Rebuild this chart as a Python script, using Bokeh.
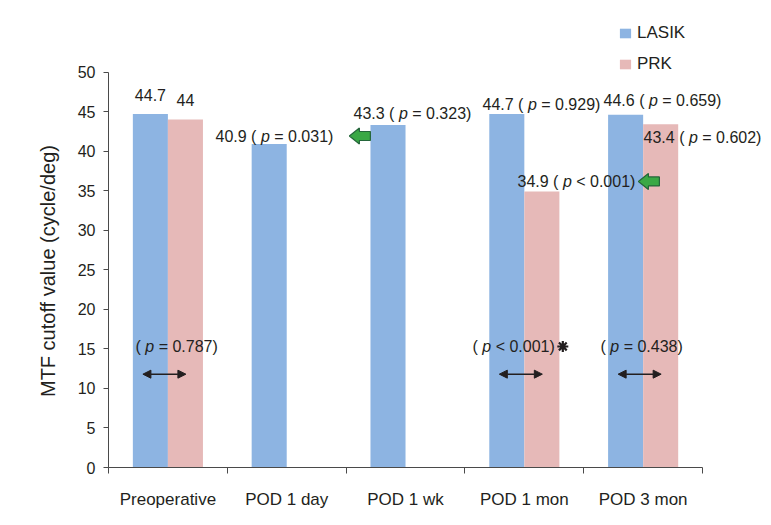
from bokeh.plotting import figure
from bokeh.models import (Range1d, FixedTicker, Legend, LegendItem, Arrow, NormalHead,
                          ColumnDataSource)
from bokeh.core.properties import value
from bokeh.embed import file_html
from bokeh.resources import INLINE

# ---------------- data ----------------
categories = ["Preoperative", "POD 1 day", "POD 1 wk", "POD 1 mon", "POD 3 mon"]
lasik = [44.7, 40.9, 43.3, 44.7, 44.6]
prk = [44.0, None, None, 34.9, 43.4]
lasik_p = [None, "= 0.031", "= 0.323", "= 0.929", "= 0.659"]
prk_p = [None, None, None, "< 0.001", "= 0.602"]
between_p = ["= 0.787", None, None, "< 0.001", "= 0.438"]
between_sig = [False, False, False, True, False]
lasik_changed = [False, True, False, False, False]
prk_changed = [False, False, False, True, False]
y_ticks = list(range(0, 51, 5))
y_label = "MTF cutoff value (cycle/deg)"

# ---------------- layout / style ----------------
FONT = "Liberation Sans"
TXT = "#231f20"
AXC = "#4a4a4a"
C_LASIK = "#8DB4E2"
C_PRK = "#E6B9B8"
GREEN = "#3aa845"
GREEN_D = "#24663a"
BAR_W = 0.295
X0, X1 = -0.5, 5.013
Y0, Y1 = 0, 57.4
FRAME_W, FRAME_H = 655, 454
PX_X = FRAME_W / (X1 - X0)
PX_Y = FRAME_H / (Y1 - Y0)
FS = 16  # annotation font size
LABEL_PAD = 11  # non-breaking spaces: centres the axis title on the 0-50 span

# (align, dx px from category centre, dy px from bar top; negative = up)
lasik_layout = [("center", -17.5, -19), ("left", -71.2, -8), ("left", -52, -12),
                ("left", -41.8, -9), ("left", -39.6, -14)]
prk_layout = [("center", 17.5, -19), None, None, ("left", -6.8, -10), ("left", 0.4, 13.6)]
bottom_dx = [-32.4, None, None, -51.8, -42.6]
BOTTOM_TEXT_Y = 15.3
ARROW_Y = 11.8
arrow_gap = 16  # px gap text -> green arrow
arrow_gap2 = 3

W = {'.': .278, ' ': .278, '(': .333, ')': .333, '=': .584, '<': .584}


def tw(s, size=FS):
    return sum(W.get(ch, 0.556) for ch in s) * size


p = figure(width=763, height=517, x_range=Range1d(X0, X1), y_range=Range1d(Y0, Y1),
           output_backend="svg", toolbar_location=None,
           min_border_left=108, min_border_right=0, min_border_top=13, min_border_bottom=50)
p.outline_line_color = None
p.grid.visible = False
p.background_fill_color = "white"

# bars
lx = [i - BAR_W / 2 for i in range(len(categories))]
r_l = p.vbar(x=lx, top=lasik, bottom=0, width=BAR_W, fill_color=C_LASIK, line_color=None)
px_, pt_ = [], []
for i, v in enumerate(prk):
    if v is not None:
        px_.append(i + BAR_W / 2)
        pt_.append(v)
r_p = p.vbar(x=px_, top=pt_, bottom=0, width=BAR_W, fill_color=C_PRK, line_color=None)

# annotations
norm = dict(x=[], y=[], text=[], align=[])
ital = dict(x=[], y=[], text=[])
greens_xs, greens_ys = [], []
stars_x, stars_y = [], []


def add_p_text(left, y, pre, ptxt):
    """draws pre + italic p + ' ' + ptxt + ')' ; returns right end x (data)"""
    norm["x"].append(left); norm["y"].append(y); norm["text"].append(pre.rstrip()); norm["align"].append("left")
    xi = left + tw(pre) / PX_X
    ital["x"].append(xi); ital["y"].append(y); ital["text"].append("p")
    xs = xi + (tw("p") + tw(" ")) / PX_X
    suf = ptxt + ")"
    norm["x"].append(xs); norm["y"].append(y); norm["text"].append(suf); norm["align"].append("left")
    return xs + tw(suf) / PX_X


def add_label(cx, top, val, ptxt, lay, changed, gap):
    align, dx, dy = lay
    y = top - dy / PX_Y
    lab = f"{val:g}"
    if ptxt is None:
        norm["x"].append(cx + dx / PX_X); norm["y"].append(y)
        norm["text"].append(lab); norm["align"].append(align)
        return
    right = add_p_text(cx + dx / PX_X, y, lab + " ( ", ptxt)
    if changed:
        tip = right + gap / PX_X
        shape = [(0, 0), (10, -8), (10, -4.5), (21, -4.5), (21, 4.5), (10, 4.5), (10, 8)]
        greens_xs.append([tip + a / PX_X for a, b in shape])
        greens_ys.append([y - b / PX_Y for a, b in shape])


for i in range(len(categories)):
    add_label(i, lasik[i], lasik[i], lasik_p[i], lasik_layout[i], lasik_changed[i], arrow_gap)
    if prk[i] is not None:
        add_label(i, prk[i], prk[i], prk_p[i], prk_layout[i], prk_changed[i], arrow_gap2)
    if between_p[i] is not None:
        right = add_p_text(i + bottom_dx[i] / PX_X, BOTTOM_TEXT_Y, "( ", between_p[i])
        if between_sig[i]:
            stars_x.append(right + 8 / PX_X)
            stars_y.append(BOTTOM_TEXT_Y)

p.text(x="x", y="y", text="text", text_align="align", source=ColumnDataSource(norm),
       text_baseline="middle", text_font=value(FONT), text_font_size=f"{FS}px", text_color=TXT)
p.text(x="x", y="y", text="text", source=ColumnDataSource(ital), text_align="left",
       text_baseline="middle", text_font=value(FONT), text_font_size=f"{FS}px",
       text_font_style="italic", text_color=TXT)
p.patches(xs=greens_xs, ys=greens_ys, fill_color=GREEN, line_color=GREEN_D, line_width=1.2)
p.scatter(x=stars_x, y=stars_y, marker="asterisk", size=11, line_color=TXT, line_width=2.2)

# double arrows between bars
ax0, ax1, ay = [], [], []
for i in range(len(categories)):
    if between_p[i] is not None:
        ax0.append(i - 25 / PX_X); ax1.append(i + 18 / PX_X); ay.append(ARROW_Y)
asrc = ColumnDataSource(dict(x0=ax0, x1=ax1, y=ay))
p.add_layout(Arrow(start=NormalHead(size=8, fill_color=TXT, line_color=TXT),
                   end=NormalHead(size=8, fill_color=TXT, line_color=TXT),
                   x_start="x0", y_start="y", x_end="x1", y_end="y", source=asrc,
                   line_color=TXT, line_width=1.5))

# axes
ya = p.yaxis[0]
ya.ticker = FixedTicker(ticks=y_ticks)
ya.bounds = (0, 50)
ya.axis_label = y_label + "\u00a0" * LABEL_PAD
ya.axis_label_text_font = FONT
ya.axis_label_text_font_size = "20px"
ya.axis_label_text_font_style = "normal"
ya.axis_label_text_color = TXT
ya.axis_label_standoff = 16
ya.major_label_text_font = FONT
ya.major_label_text_font_size = "16px"
ya.major_label_text_color = TXT
ya.major_label_standoff = 8
ya.major_tick_out = 5
ya.major_tick_in = 0
ya.minor_tick_out = 0
ya.minor_tick_in = 0
ya.axis_line_color = AXC
ya.major_tick_line_color = AXC

xa = p.xaxis[0]
xa.ticker = FixedTicker(ticks=list(range(len(categories))),
                        minor_ticks=[i - 0.5 for i in range(len(categories) + 1)])
xa.bounds = (-0.5, len(categories) - 0.5)
xa.major_label_overrides = {i: c for i, c in enumerate(categories)}
xa.major_label_text_font = FONT
xa.major_label_text_font_size = "17px"
xa.major_label_text_color = TXT
xa.major_label_standoff = 16
xa.major_tick_out = 0
xa.major_tick_in = 0
xa.minor_tick_out = 6
xa.minor_tick_in = 0
xa.axis_line_color = AXC
xa.minor_tick_line_color = AXC

legend = Legend(items=[LegendItem(label="LASIK", renderers=[r_l]),
                       LegendItem(label="PRK", renderers=[r_p])],
                location=(510, 393), padding=0, margin=0, spacing=11,
                glyph_width=14, glyph_height=12, label_height=20, label_standoff=5,
                label_text_font=FONT, label_text_font_size="17px", label_text_color=TXT,
                border_line_color=None, background_fill_alpha=0)
p.add_layout(legend)

open("out.html", "w").write(file_html(p, INLINE))
